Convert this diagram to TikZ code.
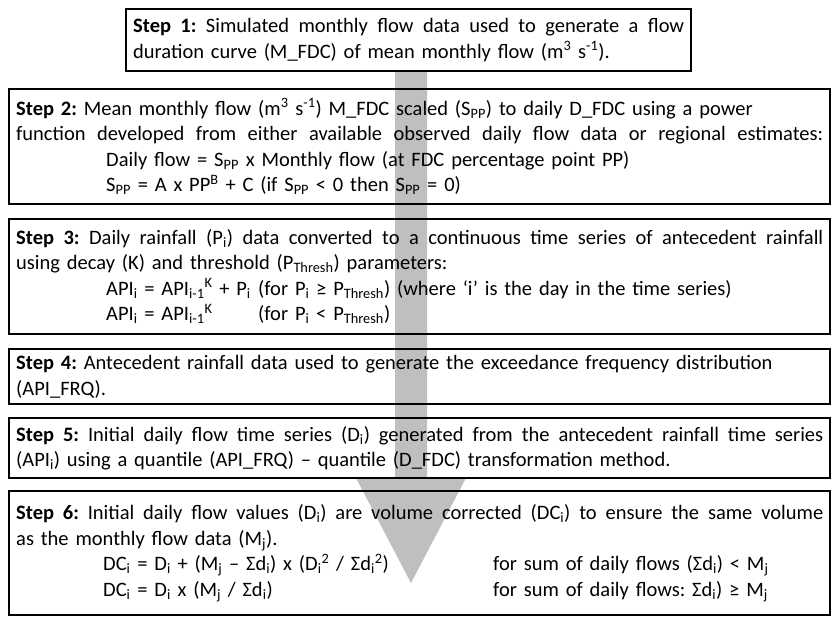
\documentclass[tikz,border=0pt]{standalone}
\usepackage{fontspec}
\setmainfont{Carlito}
% a line set flush to both margins, as in a justified paragraph
\newcommand\fullline[2][807pt]{\makebox[#1][s]{\spaceskip=0.22em plus 1em minus 0.05em\relax #2}}

\begin{document}
\frenchspacing
\begin{tikzpicture}
  [x=1pt,y=-1pt,
   stepbox/.style={draw, line width=2.4pt, anchor=north west, align=left,
     inner xsep=7pt, inner ysep=0pt, font=\fontsize{20.5}{25.5}\selectfont},
   arrowgray/.style={fill=black!25}]
  \useasboundingbox (0,0) rectangle (832,616);

  % grey arrow behind the steps
  \coordinate (tip) at (411,583);
  \fill[arrowgray] (395,70) -- (427,70) -- (427,478) -- (466,478) -- (tip)
    -- (356,478) -- (395,478) -- cycle;

  \node[stepbox, text width=551pt, minimum height=62pt] (s1) at (125,8)
    {\fullline[551pt]{\textbf{Step 1:} Simulated monthly flow data used to generate a flow}\\
     duration curve (M\_FDC) of mean monthly flow (m\textsuperscript{3} s\textsuperscript{-1}).};

  \node[stepbox, text width=807pt, minimum height=115pt] (s2) at (8,88)
    {\mbox{\textbf{Step 2:} Mean monthly flow (m\textsuperscript{3} s\textsuperscript{-1}) M\_FDC scaled (S\textsubscript{PP}) to daily D\_FDC using a power}\\
     \fullline{function developed from either available observed daily flow data or regional estimates:}\\
     \hspace*{90pt}Daily flow = S\textsubscript{PP} x Monthly flow (at FDC percentage point PP)\\
     \hspace*{90pt}S\textsubscript{PP} = A x PP\textsuperscript{B} + C (if S\textsubscript{PP} < 0 then S\textsubscript{PP} = 0)};

  \node[stepbox, text width=807pt, minimum height=115pt] (s3) at (8,218)
    {\fullline{\textbf{Step 3:} Daily rainfall (P\textsubscript{i}) data converted to a continuous time series of antecedent rainfall}\\
     using decay (K) and threshold (P\textsubscript{Thresh}) parameters:\\
     \hspace*{90pt}\makebox[152pt][l]{API\textsubscript{i} = API\textsubscript{i-1}\textsuperscript{K} + P\textsubscript{i}}(for P\textsubscript{i} ≥ P\textsubscript{Thresh}) (where ‘i’ is the day in the time series)\\
     \hspace*{90pt}\makebox[152pt][l]{API\textsubscript{i} = API\textsubscript{i-1}\textsuperscript{K}}(for P\textsubscript{i} < P\textsubscript{Thresh})};

  \node[stepbox, text width=807pt, minimum height=55pt] (s4) at (8,348)
    {\textbf{Step 4:} Antecedent rainfall data used to generate the exceedance frequency distribution\\
     (API\_FRQ).};

  \node[stepbox, text width=807pt, minimum height=60pt] (s5) at (8,417)
    {\fullline{\textbf{Step 5:} Initial daily flow time series (D\textsubscript{i}) generated from the antecedent rainfall time series}\\
     (API\textsubscript{i}) using a quantile (API\_FRQ) -- quantile (D\_FDC) transformation method.};

  \node[stepbox, text width=807pt, minimum height=124pt] (s6) at (8,490)
    {\fullline{\textbf{Step 6:} Initial daily flow values (D\textsubscript{i}) are volume corrected (DC\textsubscript{i}) to ensure the same volume}\\
     as the monthly flow data (M\textsubscript{j}).\\
     \hspace*{87pt}\makebox[390pt][l]{DC\textsubscript{i} = D\textsubscript{i} + (M\textsubscript{j} -- Σd\textsubscript{i}) x (D\textsubscript{i}\textsuperscript{2} / Σd\textsubscript{i}\textsuperscript{2})}for sum of daily flows (Σd\textsubscript{i}) < M\textsubscript{j}\\
     \hspace*{87pt}\makebox[390pt][l]{DC\textsubscript{i} = D\textsubscript{i} x (M\textsubscript{j} / Σd\textsubscript{i})}for sum of daily flows: Σd\textsubscript{i}) ≥ M\textsubscript{j}};
\end{tikzpicture}
\end{document}
